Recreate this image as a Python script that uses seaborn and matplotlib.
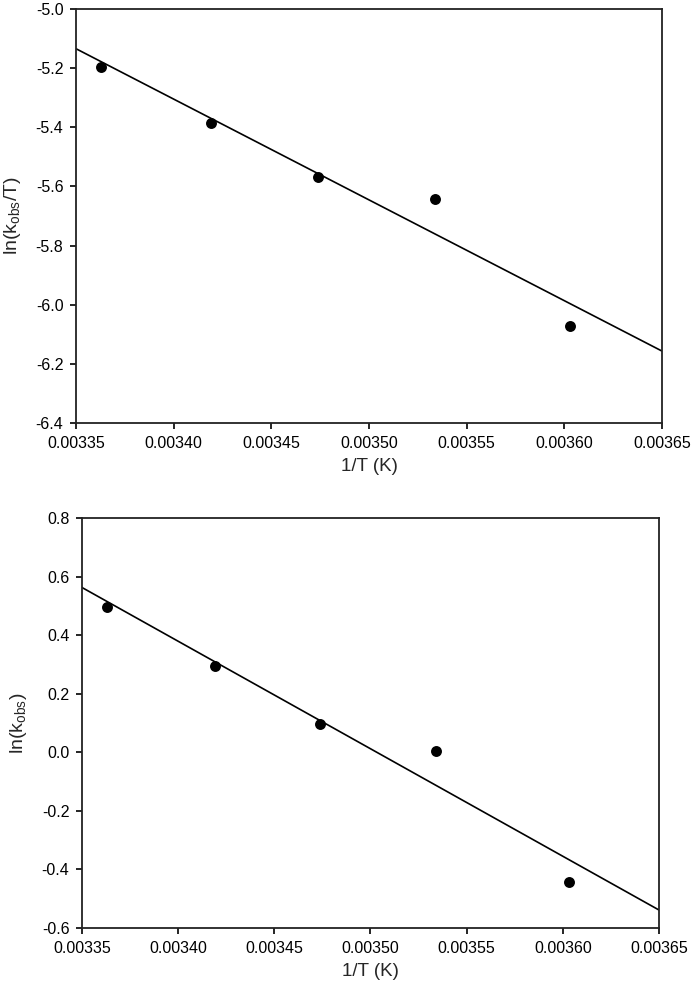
import numpy as np
import pandas as pd
import matplotlib
matplotlib.use("Agg")
import matplotlib.pyplot as plt
import seaborn as sns

# Data
inv_T = [0.003363, 0.003419, 0.003474, 0.003534, 0.003603]
ln_k_over_T = [-5.195, -5.384, -5.569, -5.643, -6.072]
ln_k = [0.497, 0.296, 0.097, 0.005, -0.442]

x_ticks = [0.00335, 0.00340, 0.00345, 0.00350, 0.00355, 0.00360, 0.00365]
top_y_ticks = [-6.4, -6.2, -6.0, -5.8, -5.6, -5.4, -5.2, -5.0]
bot_y_ticks = [-0.6, -0.4, -0.2, 0.0, 0.2, 0.4, 0.6, 0.8]

sns.set_style("ticks")
plt.rcParams['font.family'] = ['Liberation Sans', 'DejaVu Sans']
plt.rcParams['mathtext.fontset'] = 'custom'
plt.rcParams['mathtext.rm'] = 'Liberation Sans'
plt.rcParams['mathtext.it'] = 'Liberation Sans'
plt.rcParams['axes.unicode_minus'] = False

fig = plt.figure(figsize=(6.93, 9.90), dpi=100)
ax1 = fig.add_axes([76/693, 1-423/990, (662-76)/693, (423-9)/990])
ax2 = fig.add_axes([82/693, 1-928/990, (659-82)/693, (928-518)/990])

df1 = pd.DataFrame({"x": inv_T, "y": ln_k_over_T})
df2 = pd.DataFrame({"x": inv_T, "y": ln_k})

for ax, df, yt, ylab in [
    (ax1, df1, top_y_ticks, r'ln(k$_{\mathregular{obs}}$/T)'),
    (ax2, df2, bot_y_ticks, r'ln(k$_{\mathregular{obs}}$)'),
]:
    ax.set_xlim(x_ticks[0], x_ticks[-1])
    ax.set_ylim(yt[0], yt[-1])
    sns.regplot(data=df, x="x", y="y", ax=ax, ci=None, truncate=False,
                scatter_kws=dict(s=62, color="black", edgecolor="black",
                                 linewidths=0, alpha=1, zorder=3),
                line_kws=dict(color="black", lw=1.2))
    ax.set_xlim(x_ticks[0], x_ticks[-1])
    ax.set_ylim(yt[0], yt[-1])
    ax.set_xticks(x_ticks)
    ax.set_xticklabels([f"{v:.5f}" for v in x_ticks])
    ax.set_yticks(yt)
    ax.set_yticklabels([f"{v:.1f}" for v in yt])
    ax.tick_params(axis="both", direction="out", length=4, width=1.2,
                   labelsize=11.5, colors="black", top=False, right=False)
    ax.tick_params(axis="x", pad=5.5)
    ax.tick_params(axis="y", pad=5)
    for sp in ax.spines.values():
        sp.set_linewidth(1.3)
        sp.set_color("#222222")
        sp.set_visible(True)
    ax.set_xlabel("1/T (K)", fontsize=13.5, labelpad=5)
    ax.set_ylabel(ylab, fontsize=14, labelpad=9)

fig.savefig("out.png", dpi=100, facecolor="white")
